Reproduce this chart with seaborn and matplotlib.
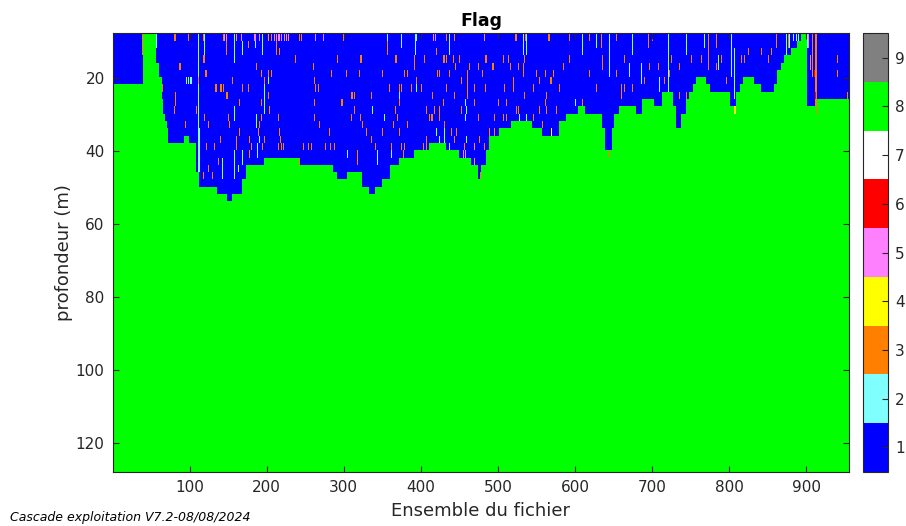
import numpy as np
import pandas as pd
import matplotlib
matplotlib.use("Agg")
import matplotlib.pyplot as plt
from matplotlib.colors import ListedColormap
import seaborn as sns

# ensembles du fichier et cellules de profondeur (2 m)
ens_first, ens_last = 1, 955
depth_top_edge, cell_size = 7.75, 2.0
depth_centers = np.arange(depth_top_edge + cell_size / 2, 128, cell_size)
ensembles = np.arange(ens_first, ens_last + 1)

# codes de flag et couleurs
flag_codes = [1, 2, 3, 4, 5, 6, 7, 8, 9]
flag_colors = ["#0000ff", "#80ffff", "#ff8000", "#ffff00", "#ff80ff",
               "#ff0000", "#ffffff", "#00ff00", "#808080"]

# limite flag 1 / flag 8 : premier ensemble du segment et profondeur (m)
seg_start = [1, 40, 57, 61, 64, 65, 66, 69, 71, 73,
             93, 100, 109, 113, 136, 149, 156, 169, 174, 197,
             243, 286, 292, 305, 324, 333, 341, 350, 360, 372,
             392, 411, 433, 450, 466, 474, 479, 485, 489, 502,
             518, 545, 558, 580, 589, 604, 613, 636, 640, 648,
             651, 658, 680, 688, 703, 714, 727, 732, 738, 745,
             749, 753, 758, 771, 775, 801, 810, 814, 818, 833,
             842, 859, 863, 868, 872, 881, 888, 894, 901, 914]
seg_depth = [22.5, 8, 16.5, 20.4, 24.4, 26.4, 30.2, 32.4, 34.3, 38.4,
             36.4, 38.4, 46, 50.1, 52.3, 54.2, 52.3, 48.2, 44.4, 42.2,
             44.4, 46.3, 48.5, 46.3, 50.4, 52.3, 50.4, 48.2, 44.4, 42.2,
             40.3, 38.4, 40.3, 42.2, 44.4, 48.2, 44.7, 40.6, 36.5, 34.3,
             32.4, 34.3, 36.5, 32.4, 30.2, 28.3, 30.2, 34, 40.6, 34,
             30.5, 28.6, 30.5, 26.6, 28.6, 24.5, 28.6, 34, 30.5, 26.6,
             24.5, 22.5, 20.4, 22.5, 24.5, 28.6, 24.5, 22.5, 20.4, 22.5,
             24.5, 22.5, 18.7, 16.5, 14.6, 12.4, 10.5, 8, 28.3, 26.6]

# cellules isolees dans la zone flag 1 : (ensemble, prof. debut, prof. fin, flag)
speckles = [
    (39, 8, 14, 3), (57, 8, 12, 2), (65, 22, 24, 3), (82, 8, 10, 3), (82, 24, 28, 3),
    (87, 16, 18, 3), (98, 8, 10, 3), (98, 20, 22, 2), (102, 20, 22, 2), (111, 8, 46, 2),
    (112, 28, 30, 3), (118, 8, 10, 3), (118, 14, 16, 3), (121, 18, 20, 3), (134, 22, 24, 3),
    (141, 22, 24, 3), (144, 8, 10, 3), (148, 8, 10, 5), (149, 24, 26, 3), (152, 32, 34, 3),
    (155, 22, 24, 3), (158, 8, 16, 2), (158, 28, 32, 2), (160, 8, 10, 5), (165, 26, 28, 3),
    (173, 8, 10, 3), (173, 24, 26, 3), (176, 22, 24, 3), (180, 38, 40, 3), (184, 8, 10, 5),
    (187, 16, 18, 3), (187, 30, 34, 2), (191, 8, 10, 3), (193, 18, 20, 3), (193, 26, 28, 3),
    (197, 22, 30, 2), (197, 36, 38, 3), (202, 8, 10, 5), (204, 28, 30, 3), (210, 8, 10, 5),
    (215, 8, 10, 5), (219, 8, 10, 5), (223, 8, 10, 5), (228, 8, 10, 5), (217, 12, 14, 3),
    (225, 14, 16, 3), (237, 14, 16, 3), (243, 8, 10, 3), (243, 42, 44, 3), (251, 30, 32, 3),
    (251, 8, 10, 5), (260, 16, 18, 3), (263, 8, 10, 5), (263, 22, 24, 3), (269, 32, 34, 3),
    (269, 38, 40, 3), (277, 28, 30, 2), (282, 26, 28, 3), (292, 14, 16, 3), (297, 26, 28, 3),
    (303, 18, 20, 3), (310, 24, 26, 3),
    # ensembles 60-320, 8-40 m
    (80, 8, 10, 3), (99, 8, 10, 3), (142, 8, 10, 3), (145, 8, 10, 5), (161, 8, 10, 5),
    (167, 8, 10, 5), (185, 8, 10, 5), (191, 8, 10, 5), (195, 8, 10, 2), (206, 8, 10, 3),
    (213, 8, 10, 5), (217, 8, 10, 5), (221, 8, 10, 5), (226, 8, 10, 5), (234, 8, 10, 3),
    (238, 8, 10, 3), (245, 8, 10, 3), (274, 8, 10, 5), (300, 8, 10, 3),
    (119, 8, 14, 2), (148, 10, 14, 3), (160, 10, 14, 2), (169, 10, 14, 2), (176, 10, 12, 3),
    (185, 10, 12, 2), (195, 10, 14, 2), (203, 10, 14, 3), (213, 10, 14, 3), (225, 10, 12, 2),
    (112, 14, 16, 3), (119, 14, 16, 3), (160, 14, 16, 3), (225, 14, 16, 3), (238, 14, 16, 3),
    (85, 16, 18, 3), (88, 16, 18, 3), (261, 16, 18, 3), (312, 16, 18, 3),
    (122, 18, 20, 3), (155, 18, 20, 3), (202, 18, 20, 3), (206, 18, 20, 3), (284, 18, 20, 3),
    (303, 18, 20, 3), (320, 18, 20, 3),
    (96, 20, 22, 2), (101, 20, 22, 2), (111, 20, 22, 3), (156, 20, 22, 3), (197, 20, 22, 3),
    (202, 20, 22, 2), (262, 20, 22, 3),
    (135, 22, 24, 3), (140, 22, 24, 3), (144, 22, 24, 3), (169, 22, 24, 3), (177, 22, 24, 3),
    (199, 22, 24, 3), (264, 22, 24, 2), (267, 22, 24, 3),
    (148, 24, 26, 3), (202, 24, 26, 3), (311, 24, 26, 3), (314, 24, 26, 3),
    (138, 26, 28, 3), (194, 26, 28, 3), (262, 26, 28, 3), (290, 26, 28, 3), (298, 26, 28, 3),
    (312, 26, 28, 3),
    (80, 28, 30, 3), (109, 28, 30, 3), (138, 28, 30, 2), (204, 28, 30, 3), (277, 28, 30, 3),
    (304, 28, 30, 3), (314, 28, 30, 3),
    (119, 30, 32, 3), (150, 30, 32, 3), (187, 30, 32, 2), (193, 30, 32, 3), (215, 30, 32, 3),
    (262, 30, 32, 3), (310, 30, 32, 3),
    (95, 32, 34, 3), (124, 32, 34, 3), (151, 32, 34, 3), (160, 32, 34, 3), (191, 32, 34, 3),
    (268, 32, 34, 3), (290, 32, 34, 3),
    (71, 34, 36, 3), (116, 34, 36, 3), (165, 34, 36, 3), (189, 34, 36, 3), (217, 34, 36, 3),
    (251, 34, 36, 5), (281, 34, 36, 3),
    (125, 36, 38, 3), (140, 36, 38, 3), (161, 36, 38, 3), (178, 36, 38, 3), (181, 36, 38, 3),
    (191, 36, 38, 2), (218, 36, 38, 3), (317, 36, 38, 3),
    (122, 38, 40, 3), (132, 38, 40, 3), (161, 38, 40, 3), (177, 38, 40, 3), (215, 38, 40, 3),
    (222, 38, 40, 3), (254, 38, 40, 3), (258, 38, 40, 3), (276, 38, 40, 3), (283, 38, 40, 3),
    (288, 38, 40, 3),
    # ensembles 110-320, 40-54 m
    (113, 34, 46, 2), (118, 46, 48, 3), (124, 44, 46, 3), (130, 46, 48, 3), (137, 42, 44, 3),
    (143, 42, 48, 2), (147, 44, 46, 3), (155, 44, 46, 3), (158, 40, 48, 2), (163, 44, 46, 2),
    (169, 40, 44, 2), (178, 40, 42, 3), (188, 38, 42, 2), (195, 38, 40, 3), (219, 38, 40, 3),
    (225, 38, 40, 3), (234, 38, 40, 2), (248, 38, 40, 3), (256, 38, 40, 3), (269, 38, 40, 3),
    (277, 38, 40, 2), (286, 40, 42, 3), (305, 40, 42, 2), (318, 40, 44, 2),
    # ensembles 320-640
    (318, 40, 44, 3), (322, 14, 16, 3), (325, 42, 44, 3), (334, 14, 16, 3), (344, 40, 44, 2),
    (347, 18, 20, 3), (351, 36, 38, 3), (357, 8, 12, 2), (362, 38, 42, 2), (368, 14, 16, 3),
    (375, 8, 12, 2), (377, 40, 42, 3), (383, 32, 34, 3), (392, 14, 16, 3), (394, 8, 10, 2),
    (394, 20, 24, 2), (399, 8, 14, 2), (401, 22, 24, 3), (407, 36, 38, 3), (414, 30, 32, 3),
    (416, 8, 10, 5), (424, 18, 20, 3), (431, 14, 16, 3), (431, 36, 38, 2), (433, 8, 10, 3),
    (440, 34, 36, 3), (442, 14, 16, 3), (443, 8, 10, 3), (450, 14, 16, 3), (455, 40, 42, 5),
    (458, 40, 42, 5), (460, 20, 26, 3), (461, 34, 36, 3), (470, 22, 24, 3), (470, 42, 44, 5),
    (474, 8, 14, 2), (474, 44, 46, 6), (483, 8, 10, 5), (485, 14, 16, 3),
    (494, 16, 18, 3), (496, 34, 36, 3), (509, 22, 24, 3), (511, 30, 32, 3), (520, 22, 24, 3),
    (524, 8, 10, 3), (524, 28, 30, 3), (528, 30, 32, 2), (533, 8, 14, 2), (533, 16, 20, 3),
    (537, 8, 14, 2), (543, 30, 32, 3), (550, 18, 20, 3), (552, 30, 32, 3), (563, 24, 26, 3),
    (565, 32, 34, 3), (567, 8, 10, 3), (569, 20, 22, 3), (569, 34, 36, 4), (574, 24, 26, 3),
    (574, 34, 36, 4), (578, 34, 36, 3), (585, 16, 18, 3), (593, 8, 10, 3), (593, 14, 16, 3),
    (601, 26, 28, 2), (610, 8, 14, 2), (610, 26, 28, 3), (619, 8, 10, 3), (619, 18, 20, 3),
    (628, 8, 12, 2), (628, 22, 24, 3),
    (393, 8, 14, 2), (419, 8, 10, 5), (437, 8, 14, 2), (444, 8, 10, 3), (482, 8, 10, 5),
    (523, 8, 10, 3), (536, 8, 10, 3), (561, 8, 10, 3), (566, 8, 10, 3), (357, 10, 14, 3),
    (420, 12, 14, 3), (474, 10, 12, 3),
    (323, 14, 16, 3), (367, 14, 16, 3), (405, 14, 16, 3), (429, 14, 16, 3), (433, 14, 16, 3),
    (461, 14, 16, 3), (484, 14, 16, 3), (507, 14, 16, 3), (514, 14, 16, 3), (534, 14, 16, 3),
    (556, 14, 16, 3), (574, 14, 16, 3),
    (392, 16, 18, 3), (445, 16, 18, 3), (463, 16, 18, 3), (475, 16, 18, 3), (493, 16, 18, 3),
    (516, 16, 18, 3), (527, 16, 18, 3),
    (350, 18, 20, 3), (379, 18, 20, 3), (383, 18, 20, 3), (395, 18, 20, 3), (422, 18, 20, 3),
    (426, 18, 20, 3), (437, 18, 20, 3), (460, 18, 20, 3), (480, 18, 20, 3), (500, 18, 20, 3),
    (509, 18, 20, 3), (530, 18, 20, 3), (562, 18, 20, 3), (572, 18, 20, 3),
    (347, 20, 22, 3), (373, 20, 22, 3), (394, 20, 22, 3), (453, 20, 22, 3), (469, 20, 22, 3),
    (520, 20, 22, 3), (554, 20, 22, 3), (568, 20, 22, 3),
    (359, 22, 24, 3), (372, 22, 24, 3), (375, 22, 24, 3), (388, 22, 24, 3), (401, 22, 24, 3),
    (433, 22, 24, 3), (484, 22, 24, 3), (487, 22, 24, 3), (508, 22, 24, 3), (522, 22, 24, 3),
    (535, 22, 24, 3), (546, 22, 24, 3), (561, 22, 24, 3), (570, 22, 24, 3), (580, 22, 24, 3),
    (336, 24, 26, 3), (347, 24, 26, 3), (372, 24, 26, 2), (415, 24, 26, 3), (444, 24, 26, 3),
    (461, 24, 26, 3), (487, 24, 26, 2), (509, 24, 26, 3), (534, 24, 26, 3), (548, 24, 26, 3),
    (334, 26, 28, 3), (356, 26, 28, 3), (372, 26, 28, 3), (395, 26, 28, 3), (429, 26, 28, 3),
    (458, 26, 28, 2), (470, 26, 28, 3), (487, 26, 28, 3), (501, 26, 28, 3), (511, 26, 28, 3),
    (535, 26, 28, 3), (562, 26, 28, 3),
    (337, 28, 30, 2), (356, 28, 30, 3), (367, 28, 30, 3), (407, 28, 30, 3), (418, 28, 30, 3),
    (424, 28, 30, 3), (434, 28, 30, 3), (453, 28, 30, 3), (459, 28, 30, 2), (509, 28, 30, 3),
    (527, 28, 30, 3), (539, 28, 30, 3), (554, 28, 30, 3), (563, 28, 30, 3), (576, 28, 30, 3),
    (322, 30, 32, 3), (334, 30, 32, 3), (353, 30, 32, 2), (370, 30, 32, 3), (411, 30, 32, 3),
    (415, 30, 32, 3), (424, 30, 32, 3), (458, 30, 32, 2), (475, 30, 32, 3), (496, 30, 32, 3),
    (507, 30, 32, 3), (517, 30, 32, 2), (537, 30, 32, 2), (546, 30, 32, 3), (556, 30, 32, 3),
    (570, 30, 32, 2),
    (324, 32, 34, 3), (351, 32, 34, 3), (364, 32, 34, 3), (383, 32, 34, 3), (431, 32, 34, 3),
    (443, 32, 34, 3), (461, 32, 34, 3), (509, 32, 34, 3), (558, 32, 34, 3), (565, 32, 34, 3),
    (578, 32, 34, 3),
    (329, 34, 36, 3), (350, 34, 36, 3), (372, 34, 36, 3), (386, 34, 36, 3), (420, 34, 36, 2),
    (431, 34, 36, 2), (443, 34, 36, 3), (446, 34, 36, 3), (489, 34, 36, 3), (500, 34, 36, 2),
    (325, 36, 38, 3), (336, 36, 38, 3), (360, 36, 38, 3), (407, 36, 38, 3), (424, 36, 38, 2),
    (444, 36, 38, 3), (459, 36, 38, 2), (476, 36, 38, 3),
    (341, 38, 40, 3), (362, 38, 40, 3), (375, 38, 40, 3), (379, 38, 40, 3), (403, 38, 40, 3),
    (407, 38, 40, 3), (437, 38, 40, 2), (457, 38, 40, 3), (470, 38, 40, 5), (483, 38, 40, 3),
    # ensembles 630-955
    (634, 8, 12, 3), (654, 8, 10, 3), (661, 8, 28, 2), (664, 14, 16, 3),
    (675, 8, 14, 2), (687, 8, 14, 2), (695, 8, 12, 3), (701, 8, 10, 3), (721, 8, 24, 2),
    (725, 14, 16, 3), (736, 16, 18, 3), (744, 8, 14, 3), (745, 24, 26, 3),
    (768, 8, 12, 2), (773, 8, 18, 3), (784, 8, 12, 3), (786, 14, 18, 2), (790, 14, 16, 3),
    (801, 8, 28, 3), (803, 8, 20, 2), (805, 8, 26, 3), (807, 12, 26, 2),
    (818, 12, 14, 3), (825, 12, 14, 3), (844, 14, 16, 3), (855, 12, 14, 3),
    (874, 8, 10, 2), (878, 8, 12, 2), (883, 8, 10, 2), (887, 8, 10, 2), (890, 8, 10, 2),
    (902, 8, 12, 2), (903, 8, 12, 5), (905, 8, 28, 3), (906, 14, 18, 5), (908, 8, 20, 3),
    (910, 8, 28, 3), (911, 18, 20, 6), (912, 8, 28, 3), (912, 24, 26, 6),
    (941, 18, 20, 3), (954, 24, 26, 3),
    (636, 14, 18, 3), (645, 8, 20, 2), (654, 18, 20, 3), (660, 22, 26, 3), (664, 22, 24, 3),
    (671, 16, 20, 2), (675, 22, 24, 3), (686, 16, 22, 2), (690, 20, 22, 3), (697, 16, 18, 3),
    (708, 16, 18, 3), (710, 20, 24, 2), (716, 20, 22, 3), (723, 18, 20, 3), (736, 24, 26, 3),
    (745, 8, 14, 2), (751, 14, 16, 3), (764, 14, 16, 3), (770, 8, 20, 2), (775, 12, 14, 3),
    (784, 16, 18, 3), (792, 8, 14, 3), (797, 20, 22, 3), (816, 14, 16, 3), (820, 14, 16, 3),
    (827, 14, 16, 3), (842, 12, 14, 3), (851, 14, 16, 3), (857, 16, 18, 3), (861, 8, 12, 3),
    (874, 8, 14, 2), (877, 8, 12, 3), (941, 14, 16, 3),
]

# cellules au bord de la zone flag 8 (remplacent le vert)
edge_cells = [
    (477, 46, 48, 3), (643, 40, 42, 3), (735, 32, 36, 3), (807, 28, 30, 4),
    (808, 28, 30, 4), (913, 8, 30, 3),
]

xtick_vals = [100, 200, 300, 400, 500, 600, 700, 800, 900]
ytick_vals = [20, 40, 60, 80, 100, 120]

# grille des flags
grid = np.ones((len(depth_centers), len(ensembles)), dtype=int)
bounds = seg_start + [ens_last + 1]
for i, d in enumerate(seg_depth):
    cols = (ensembles >= bounds[i]) & (ensembles < bounds[i + 1])
    rows = depth_centers >= d
    grid[np.ix_(rows, cols)] = 8
for e, d0, d1, f in speckles:
    rows = (depth_centers >= d0) & (depth_centers < d1) & (grid[:, e - ens_first] != 8)
    grid[rows, e - ens_first] = f
for e, d0, d1, f in edge_cells:
    rows = (depth_centers >= d0) & (depth_centers < d1)
    grid[rows, e - ens_first] = f
df = pd.DataFrame(grid, index=depth_centers, columns=ensembles)

txt = "#262626"
fig = plt.figure(figsize=(9.06, 5.26), dpi=100)
ax = fig.add_axes([0.1247, 0.1032, 0.8124, 0.8335])
cax = fig.add_axes([0.9525, 0.1032, 0.0276, 0.8335])
sns.heatmap(df, ax=ax, cbar_ax=cax, cmap=ListedColormap(flag_colors),
            vmin=0.5, vmax=9.5, xticklabels=False, yticklabels=False,
            cbar_kws={"ticks": flag_codes})

ax.set_xticks([v - ens_first + 0.5 for v in xtick_vals])
ax.set_xticklabels(xtick_vals, rotation=0)
ax.set_yticks([(v - depth_top_edge) / cell_size for v in ytick_vals])
ax.set_yticklabels(ytick_vals, rotation=0)
ax.tick_params(direction="in", top=True, right=True, length=4, width=0.8,
               labelsize=11, color=txt, labelcolor=txt, pad=6)
for s in ax.spines.values():
    s.set_visible(True)
    s.set_color(txt)
    s.set_linewidth(0.8)

ax.set_xlabel("Ensemble du fichier", fontsize=13, color=txt, labelpad=5)
ax.set_ylabel("profondeur (m)", fontsize=13, color=txt, labelpad=2)
ax.set_title("Flag", fontsize=12.5, fontweight="bold", pad=5)

cax.tick_params(direction="in", length=4, width=0.8, labelsize=11,
                color=txt, labelcolor=txt, pad=5)
cbar = ax.collections[0].colorbar
cbar.outline.set_linewidth(0.8)
cbar.outline.set_edgecolor(txt)

fig.text(0.011, 0.003, "Cascade exploitation V7.2-08/08/2024", fontsize=9,
         style="italic", color="black", va="bottom")

fig.savefig("out.png", dpi=100)
